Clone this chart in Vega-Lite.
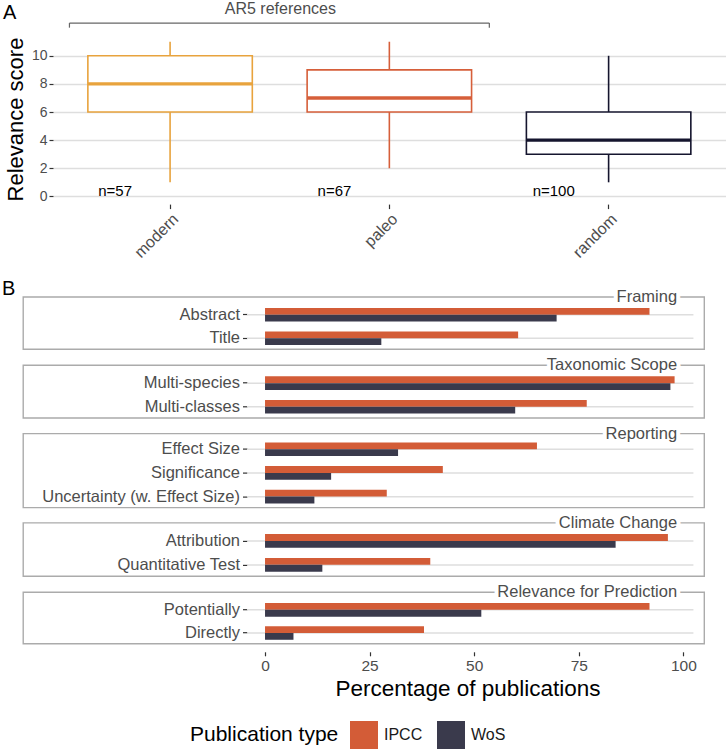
{
  "$schema": "https://vega.github.io/schema/vega-lite/v6.json",
  "padding": {"left": 2, "top": 0, "right": 0, "bottom": 0},
  "config": {
    "font": "Liberation Sans",
    "view": {"stroke": null}
  },
  "datasets": {
    "bars": [
      {"group": "Framing", "item": "Abstract", "type": "IPCC", "pct": 91.9},
      {"group": "Framing", "item": "Abstract", "type": "WoS", "pct": 69.7},
      {"group": "Framing", "item": "Title", "type": "IPCC", "pct": 60.5},
      {"group": "Framing", "item": "Title", "type": "WoS", "pct": 27.8},
      {"group": "Taxonomic Scope", "item": "Multi-species", "type": "IPCC", "pct": 97.9},
      {"group": "Taxonomic Scope", "item": "Multi-species", "type": "WoS", "pct": 96.9},
      {"group": "Taxonomic Scope", "item": "Multi-classes", "type": "IPCC", "pct": 76.9},
      {"group": "Taxonomic Scope", "item": "Multi-classes", "type": "WoS", "pct": 59.8},
      {"group": "Reporting", "item": "Effect Size", "type": "IPCC", "pct": 65.0},
      {"group": "Reporting", "item": "Effect Size", "type": "WoS", "pct": 31.8},
      {"group": "Reporting", "item": "Significance", "type": "IPCC", "pct": 42.5},
      {"group": "Reporting", "item": "Significance", "type": "WoS", "pct": 15.8},
      {"group": "Reporting", "item": "Uncertainty (w. Effect Size)", "type": "IPCC", "pct": 29.1},
      {"group": "Reporting", "item": "Uncertainty (w. Effect Size)", "type": "WoS", "pct": 11.8},
      {"group": "Climate Change", "item": "Attribution", "type": "IPCC", "pct": 96.3},
      {"group": "Climate Change", "item": "Attribution", "type": "WoS", "pct": 83.8},
      {"group": "Climate Change", "item": "Quantitative Test", "type": "IPCC", "pct": 39.5},
      {"group": "Climate Change", "item": "Quantitative Test", "type": "WoS", "pct": 13.7},
      {"group": "Relevance for Prediction", "item": "Potentially", "type": "IPCC", "pct": 91.9},
      {"group": "Relevance for Prediction", "item": "Potentially", "type": "WoS", "pct": 51.7},
      {"group": "Relevance for Prediction", "item": "Directly", "type": "IPCC", "pct": 38.0},
      {"group": "Relevance for Prediction", "item": "Directly", "type": "WoS", "pct": 6.8}
    ]
  },
  "spacing": 18,
  "resolve": {"scale": {"color": "independent"}},
  "vconcat": [
    {
      "width": 672.7,
      "height": 170.1,
      "title": {"text": "A", "anchor": "start", "frame": "group", "dx": -50, "fontSize": 20, "fontWeight": "normal", "color": "black", "offset": -22.5},
      "data": {"values": [
        {"cat": "modern", "lower": 1, "q1": 6, "median": 8, "q3": 10, "upper": 11, "n": "n=57"},
        {"cat": "paleo", "lower": 2, "q1": 6, "median": 7, "q3": 9, "upper": 11, "n": "n=67"},
        {"cat": "random", "lower": 1, "q1": 3, "median": 4, "q3": 6, "upper": 10, "n": "n=100"}
      ]},
      "encoding": {
        "x": {"field": "cat", "type": "nominal", "sort": null, "title": null,
          "scale": {"paddingInner": 0.25, "paddingOuter": 0.159},
          "axis": {"labelAngle": -45, "labelFontSize": 16, "labelColor": "#4D4D4D", "tickColor": "#333333", "tickSize": 4.5, "tickWidth": 1.2, "domain": false, "labelPadding": 2, "grid": false}}
      },
      "layer": [
        {"mark": {"type": "rule", "strokeWidth": 1.6},
         "encoding": {
           "y": {"field": "lower", "type": "quantitative", "title": "Relevance score",
             "scale": {"domain": [-0.55, 11.55], "nice": false, "zero": false},
             "axis": {"values": [0, 2, 4, 6, 8, 10], "labelOverlap": false, "titleFontSize": 22, "titleFontWeight": "normal", "titleColor": "black", "labelFontSize": 14, "labelColor": "#4D4D4D", "tickColor": "#333333", "tickSize": 4, "tickWidth": 1.2, "domain": false, "gridColor": "#DEDEDE", "gridWidth": 1.5, "titlePadding": 3.5, "labelPadding": 2}},
           "y2": {"field": "upper"},
           "color": {"field": "cat", "type": "nominal", "scale": {"domain": ["modern", "paleo", "random"], "range": ["#E8A33D", "#D65F3A", "#15152E"]}, "legend": null}
         }},
        {"mark": {"type": "bar", "fill": "white", "strokeWidth": 1.6},
         "encoding": {
           "y": {"field": "q1", "type": "quantitative", "title": "Relevance score",
             "axis": {"values": [0, 2, 4, 6, 8, 10], "labelOverlap": false, "titleFontSize": 22, "titleFontWeight": "normal", "titleColor": "black", "labelFontSize": 14, "labelColor": "#4D4D4D", "tickColor": "#333333", "tickSize": 4, "tickWidth": 1.2, "domain": false, "gridColor": "#DEDEDE", "gridWidth": 1.5, "titlePadding": 3.5, "labelPadding": 2}},
           "y2": {"field": "q3"},
           "stroke": {"field": "cat", "type": "nominal", "scale": {"domain": ["modern", "paleo", "random"], "range": ["#E8A33D", "#D65F3A", "#15152E"]}, "legend": null}
         }},
        {"mark": {"type": "tick", "thickness": 3.4, "opacity": 1},
         "encoding": {
           "y": {"field": "median", "type": "quantitative", "title": "Relevance score",
             "axis": {"values": [0, 2, 4, 6, 8, 10], "labelOverlap": false, "titleFontSize": 22, "titleFontWeight": "normal", "titleColor": "black", "labelFontSize": 14, "labelColor": "#4D4D4D", "tickColor": "#333333", "tickSize": 4, "tickWidth": 1.2, "domain": false, "gridColor": "#DEDEDE", "gridWidth": 1.5, "titlePadding": 3.5, "labelPadding": 2}},
           "color": {"field": "cat", "type": "nominal", "legend": null}
         }},
        {"mark": {"type": "text", "fontSize": 15, "color": "black", "baseline": "alphabetic", "align": "center"},
         "encoding": {
           "x": {"field": "cat", "type": "nominal", "sort": null, "bandPosition": 0.166, "title": null,
             "axis": {"labelAngle": -45, "labelFontSize": 16, "labelColor": "#4D4D4D", "tickColor": "#333333", "tickSize": 4.5, "tickWidth": 1.2, "domain": false, "labelPadding": 2, "grid": false}},
           "y": {"datum": 0, "title": "Relevance score",
             "axis": {"values": [0, 2, 4, 6, 8, 10], "labelOverlap": false, "titleFontSize": 22, "titleFontWeight": "normal", "titleColor": "black", "labelFontSize": 14, "labelColor": "#4D4D4D", "tickColor": "#333333", "tickSize": 4, "tickWidth": 1.2, "domain": false, "gridColor": "#DEDEDE", "gridWidth": 1.5, "titlePadding": 3.5, "labelPadding": 2}},
           "text": {"field": "n"}
         }},
        {"data": {"values": [{"label": "AR5 references"}]},
         "mark": {"type": "rule", "color": "#666666", "strokeWidth": 1.2},
         "encoding": {
           "x": {"datum": "modern", "type": "nominal", "bandPosition": -0.112, "title": null,
             "axis": {"labelAngle": -45, "labelFontSize": 16, "labelColor": "#4D4D4D", "tickColor": "#333333", "tickSize": 4.5, "tickWidth": 1.2, "domain": false, "labelPadding": 2, "grid": false}},
           "x2": {"datum": "paleo", "bandPosition": 1.108},
           "y": {"datum": 12.33, "title": "Relevance score",
             "axis": {"values": [0, 2, 4, 6, 8, 10], "labelOverlap": false, "titleFontSize": 22, "titleFontWeight": "normal", "titleColor": "black", "labelFontSize": 14, "labelColor": "#4D4D4D", "tickColor": "#333333", "tickSize": 4, "tickWidth": 1.2, "domain": false, "gridColor": "#DEDEDE", "gridWidth": 1.5, "titlePadding": 3.5, "labelPadding": 2}}
         }},
        {"data": {"values": [{"label": "AR5 references"}]},
         "mark": {"type": "rule", "color": "#666666", "strokeWidth": 1.2},
         "encoding": {
           "x": {"datum": "modern", "type": "nominal", "bandPosition": -0.112, "title": null,
             "axis": {"labelAngle": -45, "labelFontSize": 16, "labelColor": "#4D4D4D", "tickColor": "#333333", "tickSize": 4.5, "tickWidth": 1.2, "domain": false, "labelPadding": 2, "grid": false}},
           "y": {"datum": 12.33, "title": "Relevance score",
             "axis": {"values": [0, 2, 4, 6, 8, 10], "labelOverlap": false, "titleFontSize": 22, "titleFontWeight": "normal", "titleColor": "black", "labelFontSize": 14, "labelColor": "#4D4D4D", "tickColor": "#333333", "tickSize": 4, "tickWidth": 1.2, "domain": false, "gridColor": "#DEDEDE", "gridWidth": 1.5, "titlePadding": 3.5, "labelPadding": 2}},
           "y2": {"datum": 12.0}
         }},
        {"data": {"values": [{"label": "AR5 references"}]},
         "mark": {"type": "rule", "color": "#666666", "strokeWidth": 1.2},
         "encoding": {
           "x": {"datum": "paleo", "type": "nominal", "bandPosition": 1.108, "title": null,
             "axis": {"labelAngle": -45, "labelFontSize": 16, "labelColor": "#4D4D4D", "tickColor": "#333333", "tickSize": 4.5, "tickWidth": 1.2, "domain": false, "labelPadding": 2, "grid": false}},
           "y": {"datum": 12.33, "title": "Relevance score",
             "axis": {"values": [0, 2, 4, 6, 8, 10], "labelOverlap": false, "titleFontSize": 22, "titleFontWeight": "normal", "titleColor": "black", "labelFontSize": 14, "labelColor": "#4D4D4D", "tickColor": "#333333", "tickSize": 4, "tickWidth": 1.2, "domain": false, "gridColor": "#DEDEDE", "gridWidth": 1.5, "titlePadding": 3.5, "labelPadding": 2}},
           "y2": {"datum": 12.0}
         }},
        {"data": {"values": [{"label": "AR5 references"}]},
         "mark": {"type": "text", "fontSize": 16, "color": "#4D4D4D", "baseline": "middle", "align": "center"},
         "encoding": {
           "x": {"datum": "modern", "type": "nominal", "bandPosition": 1.1705, "title": null,
             "axis": {"labelAngle": -45, "labelFontSize": 16, "labelColor": "#4D4D4D", "tickColor": "#333333", "tickSize": 4.5, "tickWidth": 1.2, "domain": false, "labelPadding": 2, "grid": false}},
           "y": {"datum": 13.36, "title": "Relevance score",
             "axis": {"values": [0, 2, 4, 6, 8, 10], "labelOverlap": false, "titleFontSize": 22, "titleFontWeight": "normal", "titleColor": "black", "labelFontSize": 14, "labelColor": "#4D4D4D", "tickColor": "#333333", "tickSize": 4, "tickWidth": 1.2, "domain": false, "gridColor": "#DEDEDE", "gridWidth": 1.5, "titlePadding": 3.5, "labelPadding": 2}},
           "text": {"field": "label"}
         }}
      ]
    },
    {
      "spacing": 15.3,
      "bounds": "flush",
      "resolve": {"scale": {"y": "independent", "x": "independent"}},
      "vconcat": [
        {
          "width": 651.3, "height": 52.3,
          "title": {"text": "B", "anchor": "start", "frame": "group", "dx": -51, "fontSize": 20, "fontWeight": "normal", "color": "black", "offset": -10},
          "data": {"name": "bars"},
          "transform": [{"filter": "datum.group === 'Framing'"}],
          "encoding": {"y": {"field": "item", "type": "nominal", "sort": null, "title": null,
            "scale": {"paddingInner": 0.42, "paddingOuter": 0.325, "align": 0.72},
            "axis": {"offset": -194, "domain": false, "grid": false, "tickSize": 4.5, "tickColor": "#333333", "tickWidth": 1.2, "labelFontSize": 16.5, "labelColor": "#4D4D4D", "labelPadding": 3, "labelLimit": 400}}},
          "layer": [
            {"transform": [{"aggregate": [{"op": "count", "as": "k"}], "groupby": ["group"]}],
             "mark": {"type": "rect", "fill": "transparent", "stroke": "#ABABAB", "strokeWidth": 1.4},
             "encoding": {"x": {"datum": -57.8, "axis": null}, "x2": {"datum": 105}, "y": {"value": 0}, "y2": {"value": "height"}}},
            {"transform": [{"aggregate": [{"op": "count", "as": "k"}], "groupby": ["group"]}],
             "mark": {"type": "text", "align": "right", "baseline": "middle", "fontSize": 16.5, "fill": "white", "stroke": "white", "strokeWidth": 8, "strokeJoin": "round"},
             "encoding": {"x": {"datum": 98.5, "axis": null}, "y": {"value": 0}, "text": {"field": "group"}}},
            {"transform": [{"filter": "datum.type === 'IPCC'"}],
             "mark": {"type": "rule", "color": "#DEDEDE", "strokeWidth": 1.5},
             "encoding": {"x": {"datum": -4.3, "axis": null}, "x2": {"datum": 102.4}}},
            {"mark": {"type": "bar"},
             "encoding": {
               "x": {"field": "pct", "type": "quantitative", "scale": {"domain": [-50.68, 105], "nice": false, "zero": false}, "axis": null},
               "x2": {"datum": 0},
               "yOffset": {"field": "type", "type": "nominal", "sort": ["IPCC", "WoS"]},
               "color": {"field": "type", "type": "nominal", "scale": {"domain": ["IPCC", "WoS"], "range": ["#D35C37", "#3A3A4C"]},
                 "legend": {"title": "Publication type", "orient": "none", "legendX": 137, "legendY": 424, "direction": "horizontal", "titleOrient": "left", "titleFontSize": 21, "titleFontWeight": "normal", "titleColor": "black", "labelFontSize": 16, "labelColor": "#1A1A1A", "symbolType": "square", "symbolSize": 784, "symbolStrokeWidth": 0, "symbolOpacity": 1, "columnPadding": 14, "labelOffset": 6, "titlePadding": 11}}
             }},
            {"transform": [{"aggregate": [{"op": "count", "as": "k"}], "groupby": ["group"]}],
             "mark": {"type": "text", "align": "right", "baseline": "middle", "fontSize": 16.5, "color": "#4D4D4D"},
             "encoding": {"x": {"datum": 98.5, "axis": null}, "y": {"value": 0}, "text": {"field": "group"}}}
          ]
        },
        {
          "width": 651.3, "height": 52.7,
          "data": {"name": "bars"},
          "transform": [{"filter": "datum.group === 'Taxonomic Scope'"}],
          "encoding": {"y": {"field": "item", "type": "nominal", "sort": null, "title": null,
            "scale": {"paddingInner": 0.42, "paddingOuter": 0.325, "align": 0.72},
            "axis": {"offset": -194, "domain": false, "grid": false, "tickSize": 4.5, "tickColor": "#333333", "tickWidth": 1.2, "labelFontSize": 16.5, "labelColor": "#4D4D4D", "labelPadding": 3, "labelLimit": 400}}},
          "layer": [
            {"transform": [{"aggregate": [{"op": "count", "as": "k"}], "groupby": ["group"]}],
             "mark": {"type": "rect", "fill": "transparent", "stroke": "#ABABAB", "strokeWidth": 1.4},
             "encoding": {"x": {"datum": -57.8, "axis": null}, "x2": {"datum": 105}, "y": {"value": 0}, "y2": {"value": "height"}}},
            {"transform": [{"aggregate": [{"op": "count", "as": "k"}], "groupby": ["group"]}],
             "mark": {"type": "text", "align": "right", "baseline": "middle", "fontSize": 16.5, "fill": "white", "stroke": "white", "strokeWidth": 8, "strokeJoin": "round"},
             "encoding": {"x": {"datum": 98.5, "axis": null}, "y": {"value": 0}, "text": {"field": "group"}}},
            {"transform": [{"filter": "datum.type === 'IPCC'"}],
             "mark": {"type": "rule", "color": "#DEDEDE", "strokeWidth": 1.5},
             "encoding": {"x": {"datum": -4.3, "axis": null}, "x2": {"datum": 102.4}}},
            {"mark": {"type": "bar"},
             "encoding": {
               "x": {"field": "pct", "type": "quantitative", "scale": {"domain": [-50.68, 105], "nice": false, "zero": false}, "axis": null},
               "x2": {"datum": 0},
               "yOffset": {"field": "type", "type": "nominal", "sort": ["IPCC", "WoS"]},
               "color": {"field": "type", "type": "nominal", "scale": {"domain": ["IPCC", "WoS"], "range": ["#D35C37", "#3A3A4C"]},
                 "legend": {"title": "Publication type", "orient": "none", "legendX": 137, "legendY": 424, "direction": "horizontal", "titleOrient": "left", "titleFontSize": 21, "titleFontWeight": "normal", "titleColor": "black", "labelFontSize": 16, "labelColor": "#1A1A1A", "symbolType": "square", "symbolSize": 784, "symbolStrokeWidth": 0, "symbolOpacity": 1, "columnPadding": 14, "labelOffset": 6, "titlePadding": 11}}
             }},
            {"transform": [{"aggregate": [{"op": "count", "as": "k"}], "groupby": ["group"]}],
             "mark": {"type": "text", "align": "right", "baseline": "middle", "fontSize": 16.5, "color": "#4D4D4D"},
             "encoding": {"x": {"datum": 98.5, "axis": null}, "y": {"value": 0}, "text": {"field": "group"}}}
          ]
        },
        {
          "width": 651.3, "height": 74,
          "data": {"name": "bars"},
          "transform": [{"filter": "datum.group === 'Reporting'"}],
          "encoding": {"y": {"field": "item", "type": "nominal", "sort": null, "title": null,
            "scale": {"paddingInner": 0.42, "paddingOuter": 0.271, "align": 0.685},
            "axis": {"offset": -194, "domain": false, "grid": false, "tickSize": 4.5, "tickColor": "#333333", "tickWidth": 1.2, "labelFontSize": 16.5, "labelColor": "#4D4D4D", "labelPadding": 3, "labelLimit": 400}}},
          "layer": [
            {"transform": [{"aggregate": [{"op": "count", "as": "k"}], "groupby": ["group"]}],
             "mark": {"type": "rect", "fill": "transparent", "stroke": "#ABABAB", "strokeWidth": 1.4},
             "encoding": {"x": {"datum": -57.8, "axis": null}, "x2": {"datum": 105}, "y": {"value": 0}, "y2": {"value": "height"}}},
            {"transform": [{"aggregate": [{"op": "count", "as": "k"}], "groupby": ["group"]}],
             "mark": {"type": "text", "align": "right", "baseline": "middle", "fontSize": 16.5, "fill": "white", "stroke": "white", "strokeWidth": 8, "strokeJoin": "round"},
             "encoding": {"x": {"datum": 98.5, "axis": null}, "y": {"value": 0}, "text": {"field": "group"}}},
            {"transform": [{"filter": "datum.type === 'IPCC'"}],
             "mark": {"type": "rule", "color": "#DEDEDE", "strokeWidth": 1.5},
             "encoding": {"x": {"datum": -4.3, "axis": null}, "x2": {"datum": 102.4}}},
            {"mark": {"type": "bar"},
             "encoding": {
               "x": {"field": "pct", "type": "quantitative", "scale": {"domain": [-50.68, 105], "nice": false, "zero": false}, "axis": null},
               "x2": {"datum": 0},
               "yOffset": {"field": "type", "type": "nominal", "sort": ["IPCC", "WoS"]},
               "color": {"field": "type", "type": "nominal", "scale": {"domain": ["IPCC", "WoS"], "range": ["#D35C37", "#3A3A4C"]},
                 "legend": {"title": "Publication type", "orient": "none", "legendX": 137, "legendY": 424, "direction": "horizontal", "titleOrient": "left", "titleFontSize": 21, "titleFontWeight": "normal", "titleColor": "black", "labelFontSize": 16, "labelColor": "#1A1A1A", "symbolType": "square", "symbolSize": 784, "symbolStrokeWidth": 0, "symbolOpacity": 1, "columnPadding": 14, "labelOffset": 6, "titlePadding": 11}}
             }},
            {"transform": [{"aggregate": [{"op": "count", "as": "k"}], "groupby": ["group"]}],
             "mark": {"type": "text", "align": "right", "baseline": "middle", "fontSize": 16.5, "color": "#4D4D4D"},
             "encoding": {"x": {"datum": 98.5, "axis": null}, "y": {"value": 0}, "text": {"field": "group"}}}
          ]
        },
        {
          "width": 651.3, "height": 53.4,
          "data": {"name": "bars"},
          "transform": [{"filter": "datum.group === 'Climate Change'"}],
          "encoding": {"y": {"field": "item", "type": "nominal", "sort": null, "title": null,
            "scale": {"paddingInner": 0.42, "paddingOuter": 0.325, "align": 0.72},
            "axis": {"offset": -194, "domain": false, "grid": false, "tickSize": 4.5, "tickColor": "#333333", "tickWidth": 1.2, "labelFontSize": 16.5, "labelColor": "#4D4D4D", "labelPadding": 3, "labelLimit": 400}}},
          "layer": [
            {"transform": [{"aggregate": [{"op": "count", "as": "k"}], "groupby": ["group"]}],
             "mark": {"type": "rect", "fill": "transparent", "stroke": "#ABABAB", "strokeWidth": 1.4},
             "encoding": {"x": {"datum": -57.8, "axis": null}, "x2": {"datum": 105}, "y": {"value": 0}, "y2": {"value": "height"}}},
            {"transform": [{"aggregate": [{"op": "count", "as": "k"}], "groupby": ["group"]}],
             "mark": {"type": "text", "align": "right", "baseline": "middle", "fontSize": 16.5, "fill": "white", "stroke": "white", "strokeWidth": 8, "strokeJoin": "round"},
             "encoding": {"x": {"datum": 98.5, "axis": null}, "y": {"value": 0}, "text": {"field": "group"}}},
            {"transform": [{"filter": "datum.type === 'IPCC'"}],
             "mark": {"type": "rule", "color": "#DEDEDE", "strokeWidth": 1.5},
             "encoding": {"x": {"datum": -4.3, "axis": null}, "x2": {"datum": 102.4}}},
            {"mark": {"type": "bar"},
             "encoding": {
               "x": {"field": "pct", "type": "quantitative", "scale": {"domain": [-50.68, 105], "nice": false, "zero": false}, "axis": null},
               "x2": {"datum": 0},
               "yOffset": {"field": "type", "type": "nominal", "sort": ["IPCC", "WoS"]},
               "color": {"field": "type", "type": "nominal", "scale": {"domain": ["IPCC", "WoS"], "range": ["#D35C37", "#3A3A4C"]},
                 "legend": {"title": "Publication type", "orient": "none", "legendX": 137, "legendY": 424, "direction": "horizontal", "titleOrient": "left", "titleFontSize": 21, "titleFontWeight": "normal", "titleColor": "black", "labelFontSize": 16, "labelColor": "#1A1A1A", "symbolType": "square", "symbolSize": 784, "symbolStrokeWidth": 0, "symbolOpacity": 1, "columnPadding": 14, "labelOffset": 6, "titlePadding": 11}}
             }},
            {"transform": [{"aggregate": [{"op": "count", "as": "k"}], "groupby": ["group"]}],
             "mark": {"type": "text", "align": "right", "baseline": "middle", "fontSize": 16.5, "color": "#4D4D4D"},
             "encoding": {"x": {"datum": 98.5, "axis": null}, "y": {"value": 0}, "text": {"field": "group"}}}
          ]
        },
        {
          "width": 651.3, "height": 51.6,
          "data": {"name": "bars"},
          "transform": [{"filter": "datum.group === 'Relevance for Prediction'"}],
          "encoding": {"y": {"field": "item", "type": "nominal", "sort": null, "title": null,
            "scale": {"paddingInner": 0.42, "paddingOuter": 0.325, "align": 0.72},
            "axis": {"offset": -194, "domain": false, "grid": false, "tickSize": 4.5, "tickColor": "#333333", "tickWidth": 1.2, "labelFontSize": 16.5, "labelColor": "#4D4D4D", "labelPadding": 3, "labelLimit": 400}}},
          "layer": [
            {"transform": [{"aggregate": [{"op": "count", "as": "k"}], "groupby": ["group"]}],
             "mark": {"type": "rect", "fill": "transparent", "stroke": "#ABABAB", "strokeWidth": 1.4},
             "encoding": {"x": {"datum": -57.8, "title": "Percentage of publications"}, "x2": {"datum": 105}, "y": {"value": 0}, "y2": {"value": "height"}}},
            {"transform": [{"aggregate": [{"op": "count", "as": "k"}], "groupby": ["group"]}],
             "mark": {"type": "text", "align": "right", "baseline": "middle", "fontSize": 16.5, "fill": "white", "stroke": "white", "strokeWidth": 8, "strokeJoin": "round"},
             "encoding": {"x": {"datum": 98.5, "title": "Percentage of publications"}, "y": {"value": 0}, "text": {"field": "group"}}},
            {"transform": [{"filter": "datum.type === 'IPCC'"}],
             "mark": {"type": "rule", "color": "#DEDEDE", "strokeWidth": 1.5},
             "encoding": {"x": {"datum": -4.3, "title": "Percentage of publications"}, "x2": {"datum": 102.4}}},
            {"mark": {"type": "bar"},
             "encoding": {
               "x": {"field": "pct", "type": "quantitative", "title": "Percentage of publications", "scale": {"domain": [-50.68, 105], "nice": false, "zero": false},
                 "axis": {"values": [0, 25, 50, 75, 100], "titleFontSize": 22.5, "titleFontWeight": "normal", "titleColor": "black", "labelFontSize": 15.5, "labelColor": "#4D4D4D", "tickColor": "#333333", "tickSize": 4, "tickWidth": 1.2, "domain": false, "grid": false, "offset": 8, "labelPadding": 3, "titlePadding": 3, "titleX": 414.5}},
               "x2": {"datum": 0},
               "yOffset": {"field": "type", "type": "nominal", "sort": ["IPCC", "WoS"]},
               "color": {"field": "type", "type": "nominal", "scale": {"domain": ["IPCC", "WoS"], "range": ["#D35C37", "#3A3A4C"]},
                 "legend": {"title": "Publication type", "orient": "none", "legendX": 137, "legendY": 424, "direction": "horizontal", "titleOrient": "left", "titleFontSize": 21, "titleFontWeight": "normal", "titleColor": "black", "labelFontSize": 16, "labelColor": "#1A1A1A", "symbolType": "square", "symbolSize": 784, "symbolStrokeWidth": 0, "symbolOpacity": 1, "columnPadding": 14, "labelOffset": 6, "titlePadding": 11}}
             }},
            {"transform": [{"aggregate": [{"op": "count", "as": "k"}], "groupby": ["group"]}],
             "mark": {"type": "text", "align": "right", "baseline": "middle", "fontSize": 16.5, "color": "#4D4D4D"},
             "encoding": {"x": {"datum": 98.5, "title": "Percentage of publications"}, "y": {"value": 0}, "text": {"field": "group"}}}
          ]
        }
      ]
    }
  ]
}
